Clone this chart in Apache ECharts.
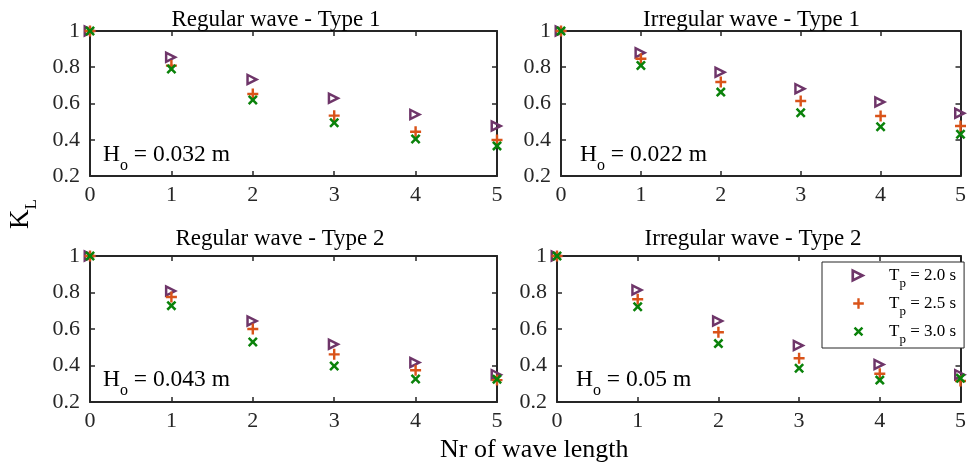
<!DOCTYPE html>
<html>
<head>
<meta charset="utf-8">
<script src="https://cdn.jsdelivr.net/npm/echarts@6/dist/echarts.min.js"></script>
<style>html,body{margin:0;padding:0;background:#fff}#c{width:969px;height:466px}</style>
</head>
<body>
<div id="c"></div>
<script>
// ---- data ----
const waveLengths = [0, 1, 2, 3, 4, 5];
const seriesNames = ['Tp = 2.0 s', 'Tp = 2.5 s', 'Tp = 3.0 s'];
const panelTitles = ['Regular wave - Type 1', 'Irregular wave - Type 1', 'Regular wave - Type 2', 'Irregular wave - Type 2'];
const waveHeights = ['0.032', '0.022', '0.043', '0.05'];
const yTicks = [0.2, 0.4, 0.6, 0.8, 1];

const reg1_T20 = [1, 0.855, 0.733, 0.629, 0.540, 0.476];
const reg1_T25 = [1, 0.809, 0.652, 0.533, 0.444, 0.399];
const reg1_T30 = [1, 0.790, 0.619, 0.494, 0.404, 0.366];
const irr1_T20 = [1, 0.880, 0.772, 0.682, 0.608, 0.546];
const irr1_T25 = [1, 0.847, 0.719, 0.614, 0.531, 0.476];
const irr1_T30 = [1, 0.810, 0.663, 0.549, 0.472, 0.430];
const reg2_T20 = [1, 0.808, 0.644, 0.516, 0.417, 0.350];
const reg2_T25 = [1, 0.775, 0.600, 0.461, 0.374, 0.320];
const reg2_T30 = [1, 0.728, 0.529, 0.397, 0.326, 0.325];
const irr2_T20 = [1, 0.814, 0.644, 0.510, 0.405, 0.350];
const irr2_T25 = [1, 0.763, 0.582, 0.440, 0.355, 0.315];
const irr2_T30 = [1, 0.722, 0.520, 0.385, 0.320, 0.330];

const panels = [
  [reg1_T20, reg1_T25, reg1_T30],
  [irr1_T20, irr1_T25, irr1_T30],
  [reg2_T20, reg2_T25, reg2_T30],
  [irr2_T20, irr2_T25, irr2_T30]
];

// ---- styles ----
const FONT = 'Liberation Serif';
const INK = '#262626';
const colors = ['#6E3569', '#D95319', '#0A820A'];
const symbols = [
  'path://M0,0L100,50L0,100ZM19,30.6L19,69.4L57.5,50Z',
  'path://M39,0H61V39H100V61H61V100H39V61H0V39H39Z',
  'path://M0,18L18,0L50,32L82,0L100,18L68,50L100,82L82,100L50,68L18,100L0,82L32,50Z'
];
// legend icons: same shapes, with empty margin so they draw at marker size in the legend box
const legendIcons = [
  'path://M-10,-10M110,110M0,0L100,50L0,100ZM19,30.6L19,69.4L57.5,50Z',
  'path://M-30,-30M130,130M39,0H61V39H100V61H61V100H39V61H0V39H39Z',
  'path://M-38,-38M138,138M0,18L18,0L50,32L82,0L100,18L68,50L100,82L82,100L50,68L18,100L0,82L32,50Z'
];
const symbolSizes = [13, 11, 10];

const grids = [
  {left: 90, top: 31, width: 407, height: 145},
  {left: 561, top: 31, width: 404, height: 145},
  {left: 90, top: 256, width: 407, height: 146},
  {left: 557, top: 256, width: 406, height: 146}
];
const titleCenters = [276, 751.5, 280, 753];
const titleTops = [8, 8, 227, 227];

const xAxes = [], yAxes = [], series = [], titles = [], graphics = [];
grids.forEach((g, i) => {
  const line = {show: true, onZero: false, lineStyle: {color: INK, width: 2}};
  const tick = {show: true, inside: true, length: 5, lineStyle: {color: INK, width: 1.5}};
  xAxes.push({type: 'value', gridIndex: i, position: 'bottom', min: 0, max: 5, interval: 1,
    axisLine: line, axisTick: tick, splitLine: {show: false},
    axisLabel: {color: INK, fontFamily: FONT, fontSize: 22, margin: 8}});
  xAxes.push({type: 'value', gridIndex: i, position: 'top', min: 0, max: 5, interval: 1,
    axisLine: line, axisTick: tick, splitLine: {show: false}, axisLabel: {show: false}});
  yAxes.push({type: 'value', gridIndex: i, position: 'left', min: 0.2, max: 1, interval: 0.2,
    axisLine: line, axisTick: tick, splitLine: {show: false},
    axisLabel: {color: INK, fontFamily: FONT, fontSize: 22, margin: 10}});
  yAxes.push({type: 'value', gridIndex: i, position: 'right', min: 0.2, max: 1, interval: 0.2,
    axisLine: line, axisTick: tick, splitLine: {show: false}, axisLabel: {show: false}});
  panels[i].forEach((vals, k) => {
    series.push({
      type: 'scatter', name: seriesNames[k], xAxisIndex: 2 * i, yAxisIndex: 2 * i,
      symbol: symbols[k], symbolSize: symbolSizes[k], symbolKeepAspect: true, clip: false,
      itemStyle: {color: colors[k], opacity: 1},
      z: 3 + k,
      data: waveLengths.map((x, j) => [x, vals[j]])
    });
  });
  titles.push({text: panelTitles[i], left: titleCenters[i], top: titleTops[i], textAlign: 'center',
    padding: 0,
    textStyle: {fontFamily: FONT, fontSize: 23, fontWeight: 'normal', color: '#000'}});
  graphics.push({type: 'text', left: g.left + (i % 2 ? 19 : 13), top: g.top + 112,
    style: {text: '{h|H}{s|o}{h| = ' + waveHeights[i] + ' m}',
      rich: {h: {fontFamily: FONT, fontSize: 23.5, lineHeight: 23, verticalAlign: 'top', fill: '#000', color: '#000'},
             s: {fontFamily: FONT, fontSize: 16, lineHeight: 16, padding: [15, 0, 0, 0], verticalAlign: 'top', fill: '#000', color: '#000'}}}});
});

graphics.push({type: 'text', left: 440, top: 437,
  style: {text: 'Nr of wave length', font: '26px "Liberation Serif"', fill: '#000'}});
graphics.push({type: 'text', x: 7, y: 229, rotation: Math.PI / 2,
  style: {text: '{k|K}{l|L}',
    rich: {k: {fontFamily: FONT, fontSize: 27, lineHeight: 27, verticalAlign: 'top', fill: '#000'},
           l: {fontFamily: FONT, fontSize: 17, lineHeight: 17, padding: [16, 0, 0, 0], verticalAlign: 'top', fill: '#000'}}}});

const legendRich = {
  t: {fontFamily: FONT, fontSize: 17, lineHeight: 17, verticalAlign: 'top', color: '#000', padding: [0, 0, 0, 17]},
  m: {fontFamily: FONT, fontSize: 17, lineHeight: 17, verticalAlign: 'top', color: '#000'},
  s: {fontFamily: FONT, fontSize: 13, lineHeight: 13, padding: [10, 0, 0, 0], verticalAlign: 'top', color: '#000'}
};

const chart = echarts.init(document.getElementById('c'), null, {renderer: 'canvas'});
chart.setOption({
  animation: false,
  backgroundColor: '#fff',
  title: titles,
  grid: grids,
  xAxis: xAxes,
  yAxis: yAxes,
  legend: {
    data: seriesNames.map((n, k) => ({name: n, icon: legendIcons[k]})),
    orient: 'vertical', left: 822, top: 262,
    padding: [5, 8, 2, 28], itemGap: 5, itemWidth: 17, itemHeight: 17,
    borderColor: INK, borderWidth: 1, backgroundColor: '#fff', borderRadius: 0,
    selectedMode: false,
    formatter: name => '{t|T}{s|p}{m|' + name.slice(2) + '}',
    textStyle: {rich: legendRich}
  },
  series: series,
  graphic: graphics
});
</script>
</body>
</html>
